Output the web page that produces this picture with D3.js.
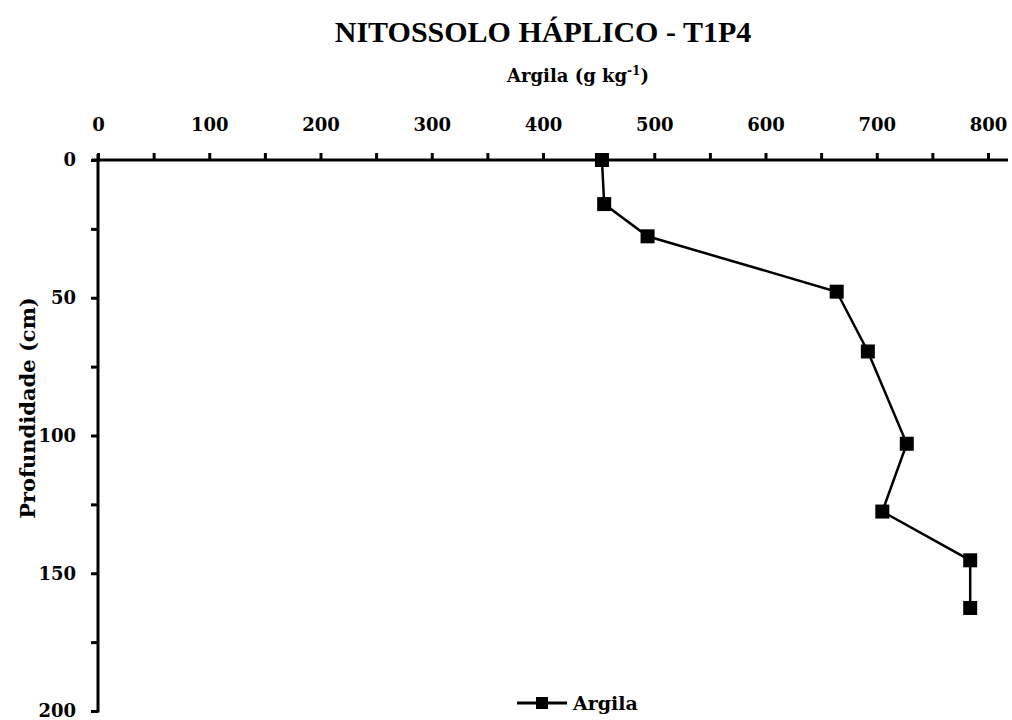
<!DOCTYPE html>
<html><head><meta charset="utf-8">
<script src="https://cdn.jsdelivr.net/npm/d3@7"></script>
<style>body{margin:0;background:#fff}svg{display:block}text{font-weight:bold;fill:#000}</style>
</head><body>
<script>
const title = "NITOSSOLO HÁPLICO - T1P4";
const seriesName = "Argila";
const argila = [453, 455, 494, 664, 692, 727, 705, 784, 784];
const depth = [0, 16, 27.7, 47.8, 69.5, 103, 127.6, 145.3, 162.6];
const xTicks = [0, 100, 200, 300, 400, 500, 600, 700, 800];
const yTicks = [0, 50, 100, 150, 200];

const SERIF = "'Liberation Serif','Times New Roman',serif";
const WIDE = "'DejaVu Serif',serif";
const W = 1012, H = 720;
const svg = d3.select("body").append("svg").attr("width", W).attr("height", H);
const x = d3.scaleLinear().domain([0, 800]).range([98, 988]);
const y = d3.scaleLinear().domain([0, 200]).range([160, 711]);

const xa = svg.append("g").attr("transform", `translate(0,${y(0)})`)
  .call(d3.axisTop(x).tickValues(d3.range(0, 801, 50)).tickSize(7).tickFormat(d => xTicks.includes(d) ? d : ""));
xa.select(".domain").remove();
xa.append("line").attr("x1", x(0) - 6).attr("x2", 1008).attr("stroke", "#000").attr("stroke-width", 3);
xa.selectAll(".tick line").attr("stroke", "#000").attr("stroke-width", 3);
xa.selectAll(".tick text").attr("y", -29).attr("font-size", 18).attr("font-family", WIDE).attr("font-weight", "bold");

const ya = svg.append("g").attr("transform", `translate(${x(0)},0)`)
  .call(d3.axisLeft(y).tickValues(d3.range(0, 201, 25)).tickSize(7).tickFormat(d => yTicks.includes(d) ? d : ""));
ya.select(".domain").remove();
ya.append("line").attr("y1", y(0) - 6).attr("y2", y(200) + 1.5).attr("stroke", "#000").attr("stroke-width", 3);
ya.selectAll(".tick line").attr("stroke", "#000").attr("stroke-width", 3);
ya.selectAll(".tick text").attr("x", -22).attr("font-size", 18).attr("font-family", WIDE).attr("font-weight", "bold");

svg.append("text").attr("x", 543).attr("y", 42).attr("text-anchor", "middle")
  .attr("font-family", SERIF).attr("font-size", 30).text(title);
const sub = svg.append("text").attr("x", 578).attr("y", 82).attr("text-anchor", "middle")
  .attr("font-family", WIDE).attr("font-size", 18);
sub.append("tspan").text("Argila (g kg");
sub.append("tspan").attr("dy", -7).attr("font-size", 12).text("-1");
sub.append("tspan").attr("dy", 7).text(")");

svg.append("text").attr("transform", `translate(28,408) rotate(-90)`).attr("text-anchor", "middle")
  .attr("dy", "0.35em").attr("font-family", WIDE).attr("font-size", 21).text("Profundidade (cm)");

const pts = argila.map((v, i) => [v, depth[i]]);
svg.append("path").datum(pts).attr("fill", "none").attr("stroke", "#000").attr("stroke-width", 2.5)
  .attr("d", d3.line().x(d => x(d[0])).y(d => y(d[1])));
svg.selectAll("rect.pt").data(pts).enter().append("rect").attr("class", "pt")
  .attr("x", d => x(d[0]) - 7).attr("y", d => y(d[1]) - 7).attr("width", 14).attr("height", 14).attr("fill", "#000");

const lg = svg.append("g");
lg.append("line").attr("x1", 517).attr("x2", 567).attr("y1", 703).attr("y2", 703).attr("stroke", "#000").attr("stroke-width", 3);
lg.append("rect").attr("x", 536).attr("y", 697).attr("width", 12).attr("height", 12).attr("fill", "#000");
lg.append("text").attr("x", 573).attr("y", 710).attr("font-family", WIDE).attr("font-size", 19).text(seriesName);
</script>
</body></html>
